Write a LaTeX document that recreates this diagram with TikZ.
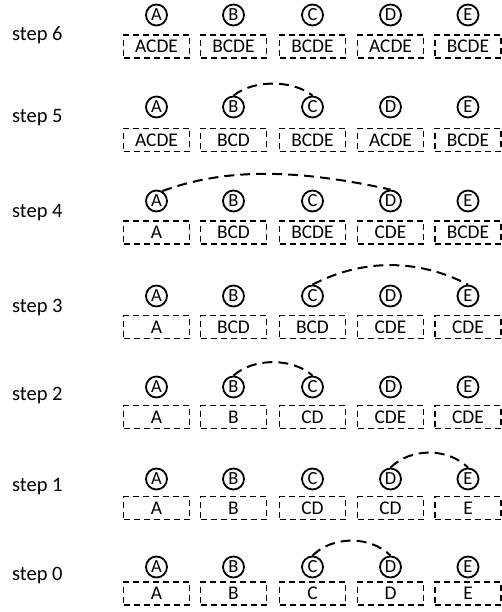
\documentclass[tikz,border=0pt]{standalone}
\usepackage{fontspec}
\setmainfont{Carlito}
\begin{document}
\begin{tikzpicture}[x=1pt,y=-1pt,
  lab/.style={anchor=west,font=\fontsize{20.5}{24}\selectfont,inner sep=0pt},
  cnode/.style={circle,draw,line width=1.8pt,minimum size=21pt,inner sep=0pt,font=\fontsize{18.5}{20}\selectfont},
  sbox/.style={draw,line width=1.1pt,dash pattern=on 6pt off 4pt,minimum width=66pt,minimum height=23pt,inner sep=0pt,font=\fontsize{19.4}{22}\selectfont},
  link/.style={line width=2pt,dash pattern=on 10pt off 6pt}]
\useasboundingbox (0,0) rectangle (502,612);
\foreach \r/\cy/\by/\ly/\ta/\tb/\tc/\td/\te in {
  6/15/46.5/35/ACDE/BCDE/BCDE/ACDE/BCDE,
  5/107/140/118/ACDE/BCD/BCDE/ACDE/BCDE,
  4/201/232.5/213/A/BCD/BCDE/CDE/BCDE,
  3/296/327/307/A/BCD/BCD/CDE/CDE,
  2/387/417/395/A/B/CD/CDE/CDE,
  1/479/508/487/A/B/CD/CD/E,
  0/567/593.5/575/A/B/C/D/E}{
  \node[lab] (l\r) at (12,\ly) {step \r};
  \foreach \col/\x/\lt/\bt in {a/156.5/A/\ta, b/233.5/B/\tb, c/312.5/C/\tc, d/390.5/D/\td, e/468/E/\te}{
    \node[cnode] (c\r-\col) at (\x,\cy) {\lt};
    \node[sbox] (b\r-\col) at (\x,\by) {\bt};
  }
}
\draw[link] (c5-b.north) .. controls +(20,-16) and +(-20,-16) .. (c5-c.north);
\draw[link] (c4-a.60) .. controls +(60,-22) and +(-100,-22) .. (c4-d.north);
\draw[link] (c3-c.north) .. controls +(50,-26) and +(-50,-26) .. (c3-e.north);
\draw[link] (c2-b.north) .. controls +(20,-18) and +(-20,-18) .. (c2-c.north);
\draw[link] (c1-d.north) .. controls +(20,-20) and +(-20,-20) .. (c1-e.north);
\draw[link] (c0-c.north) .. controls +(20,-20) and +(-20,-20) .. (c0-d.north);
\end{tikzpicture}
\end{document}
